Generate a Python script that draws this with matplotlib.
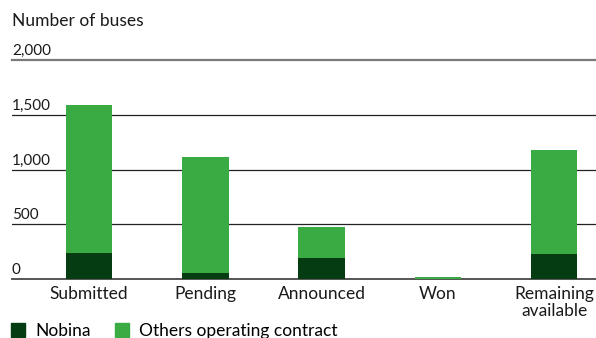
import matplotlib
matplotlib.use("Agg")
import matplotlib.pyplot as plt
from matplotlib.patches import Patch
from matplotlib.transforms import blended_transform_factory, offset_copy

plt.rcParams['font.family'] = ['Lato', 'DejaVu Sans']

categories = ["Submitted", "Pending", "Announced", "Won", "Remaining\navailable"]
nobina = [240, 55, 192, 0, 228]
others = [1350, 1058, 282, 14, 950]
yticks = [0, 500, 1000, 1500, 2000]
ytick_labels = ["0", "500", "1,000", "1,500", "2,000"]

dark = "#053c11"
light = "#3aaa42"
txt = "#1a1a1a"

W, H = 596, 338
fig = plt.figure(figsize=(W / 100, H / 100), dpi=100)
ax = fig.add_axes([12 / W, (H - 279) / H, (W - 12) / W, (279 - 60) / H])
ax.set_xlim(-0.662, 4.36)
ax.set_ylim(0, 2000)
for s in ax.spines.values():
    s.set_visible(False)

x = list(range(len(categories)))
ax.bar(x, nobina, width=0.4, color=dark, zorder=3)
ax.bar(x, others, width=0.4, bottom=nobina, color=light, zorder=3)

for v, lab in zip(yticks, ytick_labels):
    if v == 2000:
        ax.axhline(v, color="#7a7a7a", lw=1.6, zorder=1, clip_on=False)
    elif v == 0:
        ax.axhline(v, color="#555555", lw=1.4, zorder=2, clip_on=False)
    else:
        ax.axhline(v, color="#222222", lw=0.9, zorder=1)
    tr = offset_copy(blended_transform_factory(ax.transAxes, ax.transData), fig=fig, x=0, y=1.5, units='points')
    ax.text(0, v, lab, transform=tr, ha="left", va="bottom", fontsize=11, color=txt)

ax.set_yticks([])
ax.set_xticks(x)
ax.set_xticklabels(categories, fontsize=12.5, color=txt, linespacing=1.1)
ax.tick_params(axis="x", length=0, pad=5)

fig.text(12 / W, 1 - 21 / H, "Number of buses", ha="left", va="center", fontsize=12.5, color=txt)

handles = [Patch(color=dark, label="Nobina"), Patch(color=light, label="Others operating contract")]
fig.legend(handles=handles, loc="center left", bbox_to_anchor=(4 / W, 1 - 331 / H), ncol=2,
           frameon=False, fontsize=12.5, handlelength=0.8, handleheight=0.8, handletextpad=0.6,
           columnspacing=1.4, borderaxespad=0)

fig.savefig("out.png", dpi=100)
